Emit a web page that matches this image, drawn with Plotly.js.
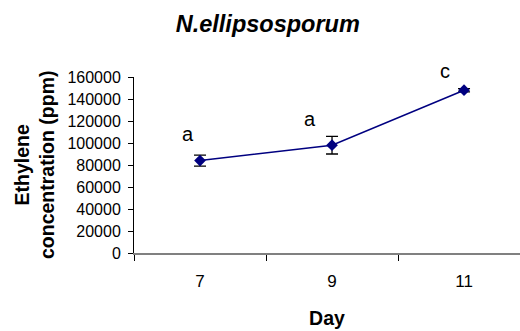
<!DOCTYPE html>
<html>
<head>
<script src="https://cdn.plot.ly/plotly-3.0.1.min.js"></script>
<style>html,body{margin:0;padding:0;background:#fff}#chart{width:520px;height:331px}</style>
</head>
<body>
<div id="chart"></div>
<script>
const days = ["7", "9", "11"];
const ethylene = [84000, 98000, 148000];
const errors = [5000, 8000, 1500];
const letters = ["a", "a", "c"];
const yTicks = [0, 20000, 40000, 60000, 80000, 100000, 120000, 140000, 160000];

const font = "Arial, 'Liberation Sans', sans-serif";

const trace = {
  x: days,
  y: ethylene,
  type: "scatter",
  mode: "lines+markers",
  line: {color: "#000080", width: 1.5},
  marker: {symbol: "diamond", size: 9, color: "#000080"},
  error_y: {type: "data", array: errors, visible: true, color: "#000000", thickness: 1.3, width: 6},
  cliponaxis: false,
  hoverinfo: "skip"
};

const letterXShift = [-12, -22, -19];
const letterYShift = [21, 17, 18];
const annotations = letters.map((t, i) => ({
  x: i, y: ethylene[i] + errors[i], xref: "x", yref: "y",
  text: t, showarrow: false,
  xshift: letterXShift[i], yshift: letterYShift[i],
  font: {family: font, size: 20, color: "#000"}
}));

annotations.push({
  xref: "paper", yref: "paper", x: -0.259, y: 0.5, xanchor: "center", yanchor: "middle",
  text: "<b>Ethylene<br>concentration (ppm)</b>", textangle: -90, showarrow: false,
  font: {family: font, size: 19.5, color: "#000"}
});

const layout = {
  width: 520, height: 331,
  margin: {l: 134, r: 0, t: 77, b: 78},
  paper_bgcolor: "#fff", plot_bgcolor: "#fff",
  showlegend: false,
  title: {
    text: "<b><i>N.ellipsosporum</i></b>",
    font: {family: font, size: 23.5, color: "#000"},
    x: 0.515, xanchor: "center", y: 0.927, yanchor: "middle", yref: "container"
  },
  xaxis: {
    type: "category",
    range: [-0.5, 2.424],
    tickson: "boundaries",
    ticks: "outside", ticklen: 6, tickcolor: "#000", tickwidth: 1,
    showline: true, linecolor: "#808080", linewidth: 2,
    showgrid: false, zeroline: false,
    tickfont: {family: font, size: 17, color: "#000"},
    ticklabelstandoff: 12,
    title: {text: "<b>Day</b>", font: {family: font, size: 19.5, color: "#000"}, standoff: 21}
  },
  yaxis: {
    range: [0, 160000],
    tickvals: yTicks,
    ticktext: yTicks.map(String),
    ticks: "outside", ticklen: 5, tickcolor: "#000", tickwidth: 1,
    showline: true, linecolor: "#000", linewidth: 1,
    showgrid: false, zeroline: false,
    tickfont: {family: font, size: 16, color: "#000"},
    ticklabelstandoff: 4
  },
  annotations: annotations
};

Plotly.newPlot("chart", [trace], layout, {displayModeBar: false, staticPlot: true});
</script>
</body>
</html>
